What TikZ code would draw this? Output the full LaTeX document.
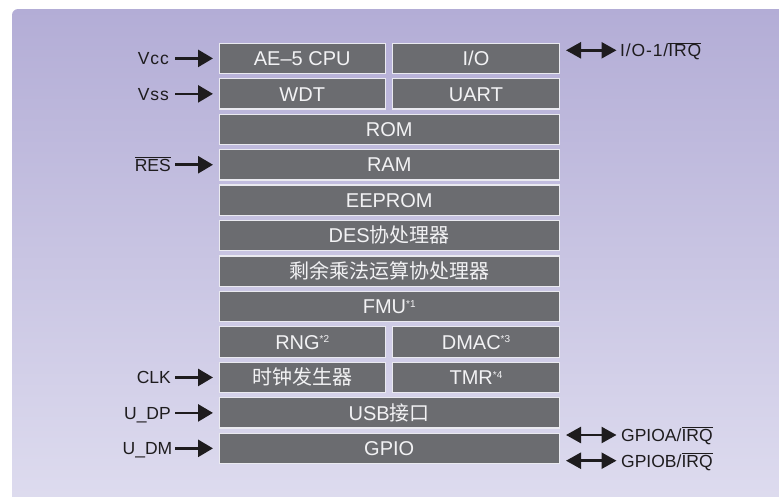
\documentclass[tikz,border=0pt]{standalone}
\usepackage{fontspec}
\setmainfont{Liberation Sans}
\newfontfamily\cjk{Noto Sans CJK SC}
\usetikzlibrary{arrows.meta,calc}
\definecolor{boxfill}{RGB}{107,108,112}
\definecolor{boxline}{RGB}{234,234,240}
\definecolor{bgtop}{RGB}{179,173,214}
\definecolor{bgbot}{RGB}{222,220,239}
\definecolor{ink}{RGB}{30,28,30}
\definecolor{boxtext}{RGB}{242,242,244}
\newcommand{\ovl}[1]{$\overline{\mbox{#1}}$}
\newcommand{\sups}[1]{\raisebox{6.5pt}{\fontsize{10}{10}\selectfont #1}}
\newcommand{\wide}[1]{{\addfontfeature{LetterSpace=5}#1}}
\begin{document}
\begin{tikzpicture}[x=1pt,y=-1pt,
  blk/.style={draw=boxline, line width=1.2pt, fill=boxfill, text=boxtext,
    inner sep=0pt, minimum height=30.3pt, font=\fontsize{20}{20}\selectfont,
    text height=14.3pt, text depth=0pt},
  full/.style={blk, minimum width=340.3pt},
  halfl/.style={blk, minimum width=166.3pt},
  halfr/.style={blk, minimum width=166.8pt},
  lbl/.style={inner sep=0pt, text=ink, font=\fontsize{17.5}{17.5}\selectfont,
    text height=12.6pt, text depth=0pt},
  arr/.style={draw=ink, line width=2.7pt, -{Triangle[length=15pt,width=17pt]}},
  dbl/.style={draw=ink, line width=2.5pt,
    {Triangle[length=15pt,width=16pt]}-{Triangle[length=15pt,width=16pt]}}
]
\useasboundingbox (0,0) rectangle (779,496);
\shade[top color=bgtop, bottom color=bgbot, rounded corners=6pt] (12,9) rectangle (800,506);

% blocks
\node[halfl] (cpu)  at (302.25,58.4)  {AE–5 CPU};
\node[halfr] (io)   at (476,58.4)     {I/O};
\node[halfl] (wdt)  at (302.25,93.85) {WDT};
\node[halfr] (uart) at (476,93.85)    {UART};
\node[full]  (rom)  at (389.25,129.3) {ROM};
\node[full]  (ram)  at (389.25,164.75) {RAM};
\node[full]  (eep)  at (389.25,200.2) {EEPROM};
\node[full]  (des)  at (389.25,235.65) {DES{\cjk 协处理器}};
\node[full]  (mod)  at (389.25,271.1) {{\cjk 剩余乘法运算协处理器}};
\node[full]  (fmu)  at (389.25,306.55) {FMU\sups{*1}};
\node[halfl] (rng)  at (302.25,342.0) {RNG\sups{*2}};
\node[halfr] (dmac) at (476,342.0)    {DMAC\sups{*3}};
\node[halfl] (clkg) at (302.25,377.45) {{\cjk 时钟发生器}};
\node[halfr] (tmr)  at (476,377.45)   {TMR\sups{*4}};
\node[full]  (usb)  at (389.25,412.9) {USB{\cjk 接口}};
\node[full]  (gpio) at (389.25,448.35) {GPIO};

% left labels
\node[lbl, anchor=east] (lvcc) at (169,58.4)   {\wide{Vcc}};
\node[lbl, anchor=east] (lvss) at (169,93.85)  {\wide{Vss}};
\node[lbl, anchor=east] (lres) at (171,164.75) {\ovl{RES}};
\node[lbl, anchor=east] (lclk) at (171,377.45) {CLK};
\node[lbl, anchor=east] (ldp)  at (171,412.9)  {U\_DP};
\node[lbl, anchor=east] (ldm)  at (172.5,448.35) {U\_DM};

\draw[arr, shorten <=6pt, shorten >=5.5pt] (lvcc.east |- cpu.west) -- (cpu.west);
\draw[arr, shorten <=6pt, shorten >=5.5pt] (lvss.east |- wdt.west) -- (wdt.west);
\foreach \l/\b in {lres/ram, lclk/clkg, ldp/usb}
  \draw[arr, shorten <=4pt, shorten >=5.5pt] (\l.east |- \b.west) -- (\b.west);
\draw[arr, shorten <=2.5pt, shorten >=5.5pt] (ldm.east |- gpio.west) -- (gpio.west);

% right labels
\node[lbl, anchor=west] (rio) at (620,50.3)  {\wide{I/O-1/}\ovl{\wide{IRQ}}};
\node[lbl, anchor=west] (rga) at (621,435)   {GPIOA/\ovl{IRQ}};
\node[lbl, anchor=west] (rgb) at (621,460.7) {GPIOB/\ovl{IRQ}};

\draw[dbl, shorten <=6pt, shorten >=3.5pt] (io.east |- rio.west) -- (rio.west);
\draw[dbl, shorten <=6pt, shorten >=4.5pt] (gpio.east |- rga.west) -- (rga.west);
\draw[dbl, shorten <=6pt, shorten >=4.5pt] (gpio.east |- rgb.west) -- (rgb.west);
\end{tikzpicture}
\end{document}
